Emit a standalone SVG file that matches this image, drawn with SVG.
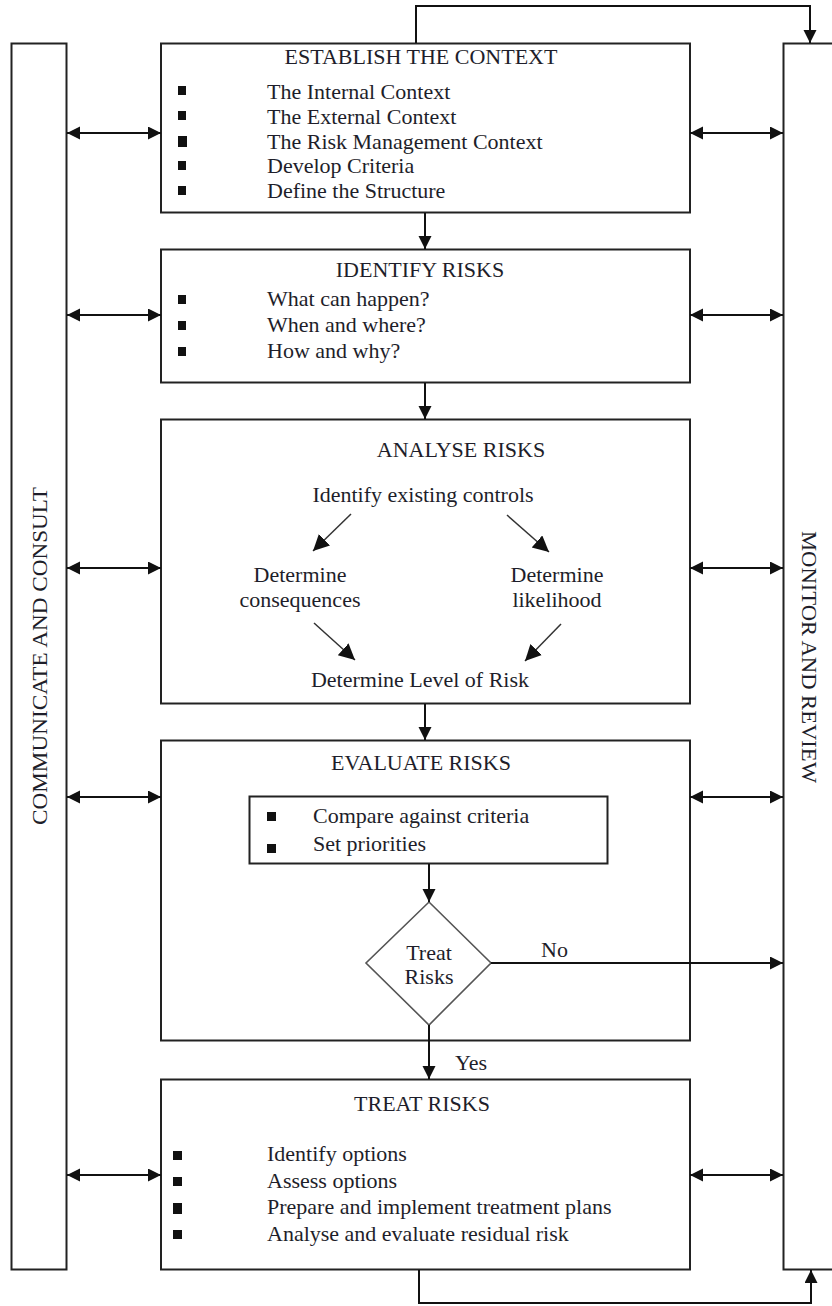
<svg xmlns="http://www.w3.org/2000/svg" width="832" height="1306" viewBox="0 0 832 1306">
<style>
.box{fill:#fff;stroke:#222;stroke-width:2}
.bar{fill:#fff;stroke:#222;stroke-width:2}
.t{font-family:"Liberation Serif","Times New Roman",serif;font-size:22px;fill:#1e1e2a}
.c{text-anchor:middle}
.b{fill:#111}
.ln{fill:none;stroke:#111;stroke-width:2}
.thin{fill:none;stroke:#333;stroke-width:1.5}
</style>
<defs>
<marker id="ah" markerUnits="userSpaceOnUse" markerWidth="14" markerHeight="14" refX="13" refY="6.5" orient="auto-start-reverse">
<path d="M0,0 L13,6.5 L0,13 z" fill="#111"/>
</marker>
<marker id="ah2" markerUnits="userSpaceOnUse" markerWidth="18" markerHeight="18" refX="16" refY="8" orient="auto">
<path d="M0,0 L16,8 L0,16 z" fill="#111"/>
</marker>
</defs>
<rect width="832" height="1306" fill="#fff"/>

<g id="communicate">
<rect class="bar" x="11.5" y="43.5" width="55" height="1226"/>
<text class="t c" transform="translate(39,656) rotate(-90)" y="7.5" textLength="338" lengthAdjust="spacingAndGlyphs">COMMUNICATE AND CONSULT</text>
</g>

<g id="monitor">
<rect class="bar" x="783.5" y="43.5" width="60" height="1226"/>
<text class="t c" transform="translate(809,657) rotate(90)" y="7.5" textLength="252" lengthAdjust="spacingAndGlyphs">MONITOR AND REVIEW</text>
</g>

<g id="establish">
<rect class="box" x="161" y="43.5" width="529" height="169"/>
<text class="t c" x="421" y="64">ESTABLISH THE CONTEXT</text>
<rect class="b" x="178" y="86" width="8" height="9"/>
<rect class="b" x="178" y="111" width="8" height="9"/>
<rect class="b" x="178" y="136" width="9" height="11"/>
<rect class="b" x="178" y="161" width="8" height="9"/>
<rect class="b" x="178" y="186" width="8" height="9"/>
<text class="t" x="267" y="99">The Internal Context</text>
<text class="t" x="267" y="124">The External Context</text>
<text class="t" x="267" y="149">The Risk Management Context</text>
<text class="t" x="267" y="173">Develop Criteria</text>
<text class="t" x="267" y="198">Define the Structure</text>
</g>

<g id="identify">
<rect class="box" x="161" y="249.5" width="529" height="133"/>
<text class="t c" x="420" y="277">IDENTIFY RISKS</text>
<rect class="b" x="178" y="295" width="8" height="9"/>
<rect class="b" x="178" y="321" width="8" height="9"/>
<rect class="b" x="178" y="347" width="8" height="9"/>
<text class="t" x="267" y="306">What can happen?</text>
<text class="t" x="267" y="332">When and where?</text>
<text class="t" x="267" y="358">How and why?</text>
</g>

<g id="analyse">
<rect class="box" x="161" y="419.5" width="529" height="284"/>
<text class="t c" x="461" y="457">ANALYSE RISKS</text>
<text class="t c" x="423" y="502">Identify existing controls</text>
<text class="t c" x="300" y="582">Determine</text>
<text class="t c" x="300" y="607">consequences</text>
<text class="t c" x="557" y="582">Determine</text>
<text class="t c" x="557" y="607">likelihood</text>
<text class="t c" x="420" y="687">Determine Level of Risk</text>
</g>

<g id="evaluate">
<rect class="box" x="161" y="740.5" width="529" height="300"/>
<text class="t c" x="421" y="770">EVALUATE RISKS</text>
<rect class="box" x="249.5" y="796.5" width="358" height="67"/>
<rect class="b" x="267" y="812" width="9" height="9"/>
<rect class="b" x="267" y="844" width="9" height="9"/>
<text class="t" x="313" y="823">Compare against criteria</text>
<text class="t" x="313" y="851">Set priorities</text>
</g>

<g id="decision">
<polygon points="429,902 491,963 429,1025 366,963" fill="#fff" stroke="#555" stroke-width="1.6"/>
<text class="t c" x="429" y="960">Treat</text>
<text class="t c" x="429" y="984">Risks</text>
</g>

<g id="treat">
<rect class="box" x="161" y="1079.5" width="529" height="190"/>
<text class="t c" x="422" y="1111">TREAT RISKS</text>
<rect class="b" x="173" y="1151" width="9" height="9"/>
<rect class="b" x="173" y="1177" width="9" height="9"/>
<rect class="b" x="173" y="1203" width="9" height="11"/>
<rect class="b" x="173" y="1230" width="9" height="9"/>
<text class="t" x="267" y="1161">Identify options</text>
<text class="t" x="267" y="1188">Assess options</text>
<text class="t" x="267" y="1214">Prepare and implement treatment plans</text>
<text class="t" x="267" y="1241">Analyse and evaluate residual risk</text>
</g>

<g id="connectors">
<polyline class="ln" points="416,43 416,6 810,6 810,43" marker-end="url(#ah)"/>
<polyline class="ln" points="419,1270 419,1303 811,1303 811,1270" marker-end="url(#ah)"/>
<line class="ln" x1="425" y1="213" x2="425" y2="249" marker-end="url(#ah)"/>
<line class="ln" x1="425" y1="383" x2="425" y2="419" marker-end="url(#ah)"/>
<line class="ln" x1="425" y1="704" x2="425" y2="740" marker-end="url(#ah)"/>
<line class="ln" x1="429" y1="864" x2="429" y2="902" marker-end="url(#ah)"/>
<line class="ln" x1="429" y1="1025" x2="429" y2="1079" marker-end="url(#ah)"/>
<line class="ln" x1="491" y1="963" x2="783" y2="963" marker-end="url(#ah)"/>
<text class="t" x="541" y="957">No</text>
<text class="t" x="455" y="1070">Yes</text>
<line class="ln" x1="67" y1="133" x2="161" y2="133" marker-start="url(#ah)" marker-end="url(#ah)"/>
<line class="ln" x1="67" y1="315" x2="161" y2="315" marker-start="url(#ah)" marker-end="url(#ah)"/>
<line class="ln" x1="67" y1="568" x2="161" y2="568" marker-start="url(#ah)" marker-end="url(#ah)"/>
<line class="ln" x1="67" y1="797" x2="161" y2="797" marker-start="url(#ah)" marker-end="url(#ah)"/>
<line class="ln" x1="67" y1="1175" x2="161" y2="1175" marker-start="url(#ah)" marker-end="url(#ah)"/>
<line class="ln" x1="690" y1="133" x2="783" y2="133" marker-start="url(#ah)" marker-end="url(#ah)"/>
<line class="ln" x1="690" y1="315" x2="783" y2="315" marker-start="url(#ah)" marker-end="url(#ah)"/>
<line class="ln" x1="690" y1="568" x2="783" y2="568" marker-start="url(#ah)" marker-end="url(#ah)"/>
<line class="ln" x1="690" y1="797" x2="783" y2="797" marker-start="url(#ah)" marker-end="url(#ah)"/>
<line class="ln" x1="690" y1="1175" x2="783" y2="1175" marker-start="url(#ah)" marker-end="url(#ah)"/>
<line class="thin" x1="351" y1="514" x2="313" y2="551" marker-end="url(#ah2)"/>
<line class="thin" x1="507" y1="515" x2="549" y2="552" marker-end="url(#ah2)"/>
<line class="thin" x1="314" y1="623" x2="355" y2="660" marker-end="url(#ah2)"/>
<line class="thin" x1="561" y1="624" x2="525" y2="661" marker-end="url(#ah2)"/>
</g>
</svg>
